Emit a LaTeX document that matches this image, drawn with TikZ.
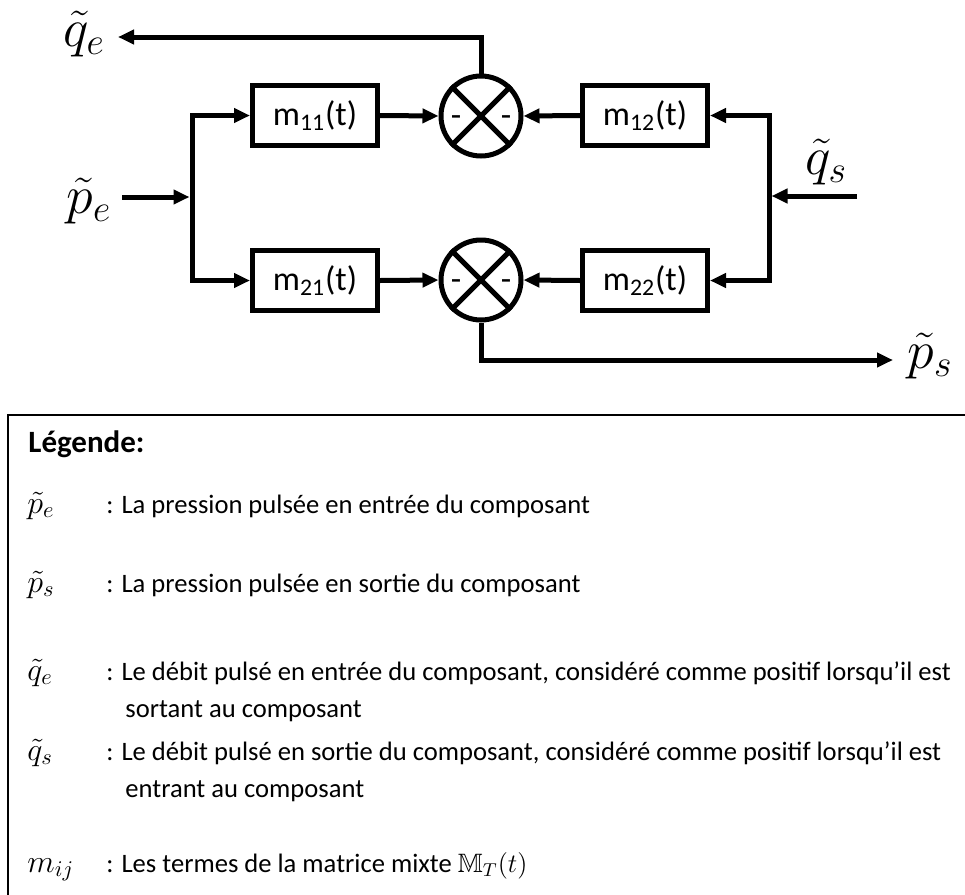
\RequirePackage{fix-cm}
\documentclass[tikz,border=0pt]{standalone}
\usepackage[no-math]{fontspec}
\usepackage{amssymb}
\setmainfont{Carlito}
\usetikzlibrary{arrows.meta}
\tikzset{
  wire/.style={line width=2.5pt, line join=miter},
  arr/.style={wire, -{Triangle[length=8pt,width=7pt]}},
  blockbox/.style={draw, line width=2.5pt, minimum width=62.5pt, minimum height=30pt, inner sep=0pt, font=\fontsize{17}{20}\selectfont},
  sumnode/.style={draw, circle, line width=2.5pt, minimum size=40pt, inner sep=0pt},
  sign/.style={inner sep=0pt, anchor=base, font=\fontsize{17}{20}\selectfont},
  biglabel/.style={inner sep=0pt, font=\fontsize{27}{30}\selectfont},
  legtext/.style={inner sep=0pt, anchor=base west, font=\fontsize{13.3}{16}\selectfont},
  legmath/.style={inner sep=0pt, anchor=base west, font=\fontsize{16}{18}\selectfont},
}
\begin{document}
\begin{tikzpicture}[x=0.5pt,y=-0.5pt]
\useasboundingbox (0,0) rectangle (965,895);
\clip (0,0) rectangle (965,895);

% blocks
\node[blockbox] (m11) at (315,115.5) {m\textsubscript{11}(t)};
\node[blockbox] (m12) at (645,115.5) {m\textsubscript{12}(t)};
\node[blockbox] (m21) at (315,280.5) {m\textsubscript{21}(t)};
\node[blockbox] (m22) at (645,280.5) {m\textsubscript{22}(t)};

% summing junctions
\node[sumnode] (s1) at (481,116) {};
\node[sumnode] (s2) at (481,280) {};
\draw[line width=2.5pt] (s1.north west) -- (s1.south east) (s1.north east) -- (s1.south west);
\draw[line width=2.5pt] (s2.north west) -- (s2.south east) (s2.north east) -- (s2.south west);
\node[sign] (s1l) at (456,126) {-};
\node[sign] (s1r) at (506,126) {-};
\node[sign] (s2l) at (456,290) {-};
\node[sign] (s2r) at (506,290) {-};

% junction coordinates
\coordinate (jL) at (192,197);
\coordinate (jR) at (769,196);
\coordinate (pein) at (122,197);
\coordinate (qsin) at (857,196);
\coordinate (qeout) at (118,37);
\coordinate (psout) at (893,360);

% labels
\node[biglabel] (qe) at (84,34) {$\tilde{q}_e$};
\node[biglabel] (pe) at (89,201) {$\tilde{p}_e$};
\node[biglabel] (qs) at (826,162) {$\tilde{q}_s$};
\node[biglabel] (ps) at (930,356) {$\tilde{p}_s$};

% left splitting
\draw[arr, shorten >=1.25pt] (pein) -- (jL);
\draw[arr] (jL) |- (m11.west);
\draw[arr] (jL) |- (m21.west);
% right splitting
\draw[arr, shorten >=1.25pt] (qsin) -- (jR);
\draw[arr] (jR) |- (m12.east);
\draw[arr] (jR) |- (m22.east);
% into sums
\draw[arr] (m11.east) -- (s1.west);
\draw[arr] (m21.east) -- (s2.west);
\draw[arr] (m12.west) -- (s1.east);
\draw[arr] (m22.west) -- (s2.east);
% outputs
\draw[arr] (s1.north) |- (qeout);
\draw[arr] (s2.south) |- (psout);

% legend
\draw[line width=1pt] (8,415) rectangle (980,910);
\node[inner sep=0pt, anchor=base west, font=\bfseries\fontsize{15.5}{18}\selectfont] (lh) at (28,452) {Légende:};

\node[legmath] (l1m) at (27,513) {$\tilde{p}_e$};
\node[legtext] (l1t) at (106,513) {: La pression pulsée en entrée du composant};

\node[legmath] (l2m) at (27,592) {$\tilde{p}_s$};
\node[legtext] (l2t) at (106,592) {: La pression pulsée en sortie du composant};

\node[legmath] (l3m) at (27,680) {$\tilde{q}_e$};
\node[legtext] (l3t) at (106,680) {: Le débit pulsé en entrée du composant, considéré comme positif lorsqu’il est};
\node[legtext] (l3u) at (125,717) {sortant au composant};

\node[legmath] (l4m) at (27,760) {$\tilde{q}_s$};
\node[legtext] (l4t) at (106,760) {: Le débit pulsé en sortie du composant, considéré comme positif lorsqu’il est};
\node[legtext] (l4u) at (125,797) {entrant au composant};

\node[legmath] (l5m) at (27,872) {$m_{ij}$};
\node[legtext] (l5t) at (106,872) {: Les termes de la matrice mixte $\mathbb{M}_T(t)$};
\end{tikzpicture}
\end{document}
